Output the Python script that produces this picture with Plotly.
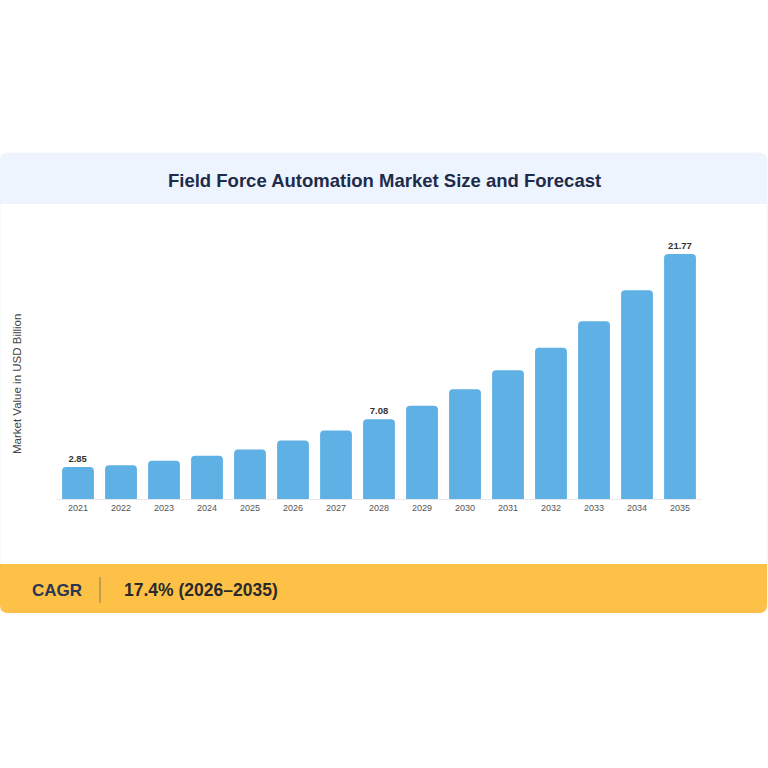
import plotly.graph_objects as go

years = ["2021", "2022", "2023", "2024", "2025", "2026", "2027", "2028",
         "2029", "2030", "2031", "2032", "2033", "2034", "2035"]
values = [2.85, 3.0, 3.4, 3.85, 4.4, 5.2, 6.1, 7.08,
          8.3, 9.75, 11.45, 13.45, 15.8, 18.55, 21.77]
labeled_years = ["2021", "2028", "2035"]

title_text = "Field Force Automation Market Size and Forecast"
y_title = "Market Value in USD Billion"
cagr_label = "CAGR"
cagr_value = "17.4% (2026–2035)"

W = H = 768
def px(x):
    return x / W
def py(y):
    return 1 - y / H

texts = [f"<b>{v:.2f}</b>" if yr in labeled_years else "" for yr, v in zip(years, values)]

fig = go.Figure()
fig.add_trace(go.Bar(
    x=years, y=values,
    marker=dict(color="#5EB0E5", cornerradius=4, line=dict(width=0)),
    text=texts, textposition="outside", cliponaxis=False,
    textfont=dict(family="Liberation Sans, Arial", size=9.5, color="#333333"),
    width=0.74,
    hoverinfo="x+y",
))

def rounded_rect(x0, y0, x1, y1, r, top=True, bottom=True):
    def P(x, y):
        return f"{px(x):.5f},{py(y):.5f}"
    rt = r if top else 0
    rb = r if bottom else 0
    path = f"M {P(x0 + rt, y0)} L {P(x1 - rt, y0)} "
    if rt:
        path += f"Q {P(x1, y0)} {P(x1, y0 + rt)} "
    path += f"L {P(x1, y1 - rb)} "
    if rb:
        path += f"Q {P(x1, y1)} {P(x1 - rb, y1)} "
    path += f"L {P(x0 + rb, y1)} "
    if rb:
        path += f"Q {P(x0, y1)} {P(x0, y1 - rb)} "
    path += f"L {P(x0, y0 + rt)} "
    if rt:
        path += f"Q {P(x0, y0)} {P(x0 + rt, y0)} "
    path += "Z"
    return path

shapes = [
    dict(type="path", xref="paper", yref="paper", layer="below",
         path=rounded_rect(0, 153, 767, 613, 8),
         fillcolor="#FFFFFF", line=dict(color="#F1F3F7", width=1)),
    dict(type="path", xref="paper", yref="paper", layer="below",
         path=rounded_rect(0, 153, 767, 204, 8, top=True, bottom=False),
         fillcolor="#EEF4FD", line=dict(width=0)),
    dict(type="path", xref="paper", yref="paper", layer="below",
         path=rounded_rect(0, 564, 767, 613, 8, top=False, bottom=True),
         fillcolor="#FEC148", line=dict(width=0)),
    dict(type="line", xref="paper", yref="paper",
         x0=px(100), x1=px(100), y0=py(577), y1=py(603),
         line=dict(color="#8A7A55", width=1)),
]

annotations = [
    dict(text=f"<b>{title_text}</b>", xref="paper", yref="paper",
         x=px(384), y=py(180), showarrow=False, xanchor="center", yanchor="middle",
         font=dict(family="Liberation Sans, Arial", size=18.5, color="#1E2B4A")),
    dict(text=y_title, xref="paper", yref="paper", textangle=-90,
         x=px(17), y=py(384), showarrow=False, xanchor="center", yanchor="middle",
         font=dict(family="Liberation Sans, Arial", size=11.5, color="#444444")),
    dict(text=f"<b>{cagr_label}</b>", xref="paper", yref="paper",
         x=px(30), y=py(590), showarrow=False, xanchor="left", yanchor="middle",
         font=dict(family="Liberation Sans, Arial", size=17, color="#2A3650")),
    dict(text=f"<b>{cagr_value}</b>", xref="paper", yref="paper",
         x=px(122), y=py(590), showarrow=False, xanchor="left", yanchor="middle",
         font=dict(family="Liberation Sans, Arial", size=17.5, color="#2A2A2A")),
]

fig.update_layout(
    width=W, height=H,
    margin=dict(l=0, r=0, t=0, b=0),
    paper_bgcolor="#FFFFFF", plot_bgcolor="rgba(0,0,0,0)",
    showlegend=False,
    shapes=shapes, annotations=annotations,
    xaxis=dict(domain=[px(56.5), px(701.5)], range=[-0.5, 14.5],
               showgrid=False, showline=True, linecolor="#E6E8EC", linewidth=1,
               ticks="", fixedrange=True,
               tickfont=dict(family="Liberation Sans, Arial", size=9, color="#555555")),
    yaxis=dict(domain=[py(499), py(229)], range=[0, 24],
               showgrid=False, showticklabels=False, zeroline=False, fixedrange=True),
    bargap=0.26,
)

fig.write_html("out.html")
